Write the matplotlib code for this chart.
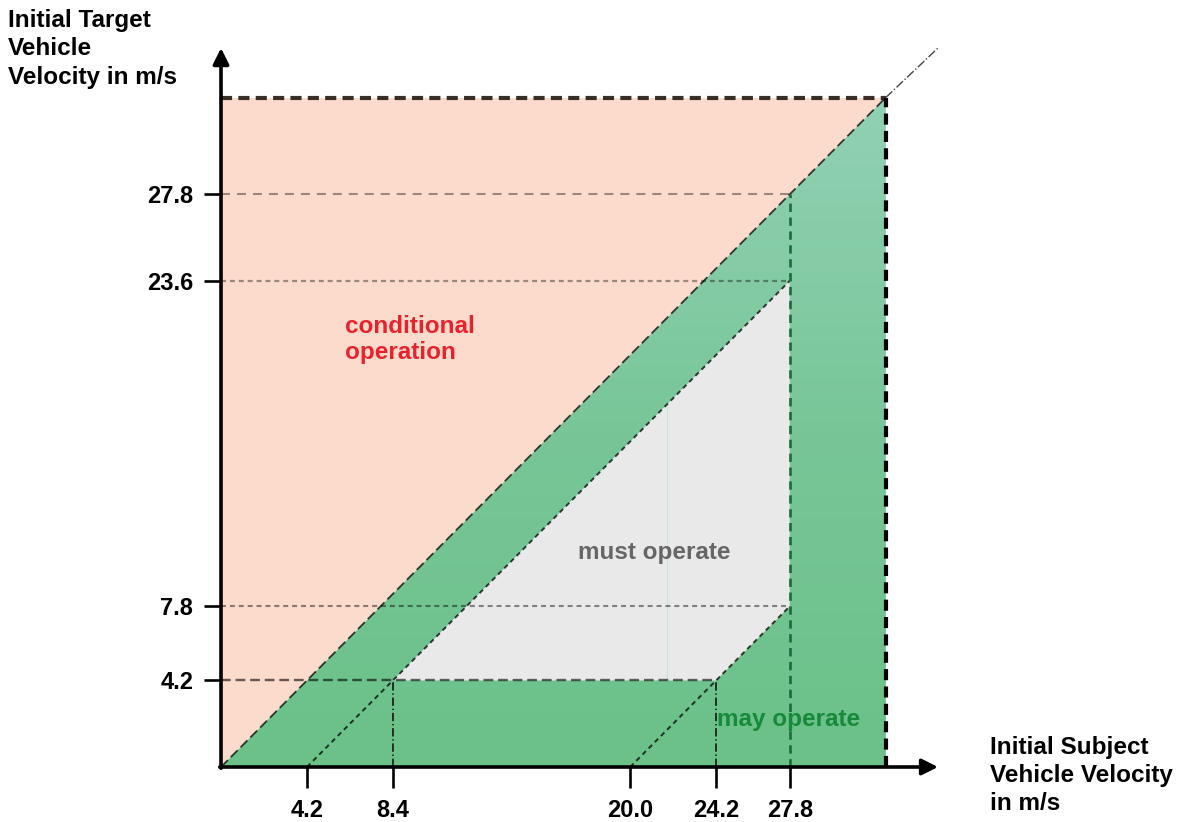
import numpy as np
import matplotlib
matplotlib.use("Agg")
import matplotlib.pyplot as plt
from matplotlib.patches import Polygon
from matplotlib.colors import LinearSegmentedColormap

plt.rcParams["font.family"] = ["Liberation Sans", "DejaVu Sans"]
plt.rcParams["lines.scale_dashes"] = False

# velocities in m/s
x_ticks = [4.2, 8.4, 20.0, 24.2, 27.8]
y_ticks = [4.2, 7.8, 23.6, 27.8]
v_max = 32.5          # outer limit of the test space
v_axis = 35.0         # length of the axis arrows
v_min_target = 4.2    # lowest target velocity that must be handled
v_max_subject = 27.8  # highest subject velocity that must be handled
dv_low = 4.2          # minimum speed difference (y = x - dv_low)
dv_high = 20.0        # maximum speed difference (y = x - dv_high)

fig = plt.figure(figsize=(11.84, 8.22), dpi=100)
ax = fig.add_axes([221 / 1184, 55 / 822, 716 / 1184, 721 / 822])

# conditional operation: target faster than subject
pink = Polygon([(0, 0), (0, v_max), (v_max, v_max)], closed=True,
               facecolor="#fcdbcc", edgecolor="none", zorder=1)
ax.add_patch(pink)

# may operate: green gradient below the diagonal
green_shape = Polygon([(0, 0), (v_max, v_max), (v_max, 0)], closed=True,
                      facecolor="none", edgecolor="none", transform=ax.transData)
ax.add_patch(green_shape)
cmap = LinearSegmentedColormap.from_list("grn", ["#6bc188", "#78c698", "#91d1b5"])
grad = np.linspace(0, 1, 256).reshape(-1, 1)
im = ax.imshow(grad, extent=[0, v_max, 0, v_max], origin="lower", cmap=cmap,
               aspect="auto", zorder=1)
im.set_clip_path(green_shape)

# must operate region
x_low = v_min_target + dv_low
x_high = v_min_target + dv_high
must = Polygon([(x_low, v_min_target), (v_max_subject, v_max_subject - dv_low),
                (v_max_subject, v_max_subject - dv_high), (x_high, v_min_target)],
               closed=True, facecolor="#e9e9e9", edgecolor="none", zorder=2)
ax.add_patch(must)
# faint seam in the grey area
ax.plot([21.8, 21.8], [v_min_target, 21.8 - dv_low], color="#c8e6da", lw=0.8, zorder=2)

# outer border
ax.plot([0, v_max], [v_max, v_max], color="#3a2d28", lw=3, dashes=(8, 4.5), zorder=3)
ax.plot([v_max, v_max], [0, v_max], color="black", lw=3, dashes=(8, 4.5), zorder=3)

# diagonal y = x and its extension
ax.plot([0, v_max], [0, v_max], color="black", alpha=0.75, lw=1.3, dashes=(7, 3), zorder=3)
ax.plot([v_max, 35.1], [v_max, 34.95], color="#444444", lw=1, linestyle="-.",
        clip_on=False, zorder=3)

# speed-difference lines
ax.plot([dv_low, v_max_subject], [0, v_max_subject - dv_low], color="black",
        alpha=0.75, lw=1.4, dashes=(3.5, 2.8), zorder=3)
ax.plot([dv_high, v_max_subject], [0, v_max_subject - dv_high], color="black",
        alpha=0.75, lw=1.4, dashes=(3.5, 2.8), zorder=3)

# horizontal guide lines
ax.plot([0, v_max_subject], [27.8, 27.8], color="black", alpha=0.38, lw=1.5,
        dashes=(6.5, 5), zorder=3)
ax.plot([0, v_max_subject], [23.6, 23.6], color="black", alpha=0.38, lw=1.6,
        dashes=(3.6, 2.8), zorder=3)
ax.plot([0, v_max_subject], [7.8, 7.8], color="black", alpha=0.45, lw=1.5,
        dashes=(3.6, 2.8), zorder=3)
ax.plot([0, x_high], [v_min_target, v_min_target], color="black", alpha=0.6,
        lw=1.7, dashes=(7, 3.5), zorder=3)

# vertical guide lines
ax.plot([x_low, x_low], [0, v_min_target], color="black", alpha=0.8, lw=1.3,
        dashes=(6, 2, 1, 2), zorder=3)
ax.plot([x_high, x_high], [0, v_min_target], color="black", alpha=0.8, lw=1.3,
        dashes=(6, 2, 1, 2), zorder=3)
ax.plot([v_max_subject, v_max_subject], [0, v_max_subject], color="#1b6a3c",
        lw=1.9, dashes=(6, 4), zorder=3)

# region labels
ax.text(6.06, 21.95, "conditional\noperation", color="#e8232d", fontsize=17.5,
        fontweight="bold", ha="left", va="top", linespacing=1.2, zorder=4)
ax.text(21.2, 10.4, "must operate", color="#666666", fontsize=17.5,
        fontweight="bold", ha="center", va="center", zorder=4)
ax.text(24.25, 2.3, "may operate", color="#17893a", fontsize=17.5,
        fontweight="bold", ha="left", va="center", zorder=4)

# axes with arrows
ax.set_xlim(0, v_axis)
ax.set_ylim(0, v_axis)
for s in ax.spines.values():
    s.set_visible(False)
arrow = dict(arrowstyle="-|>", lw=2.6, color="black", mutation_scale=24,
             shrinkA=0, shrinkB=0)
ax.annotate("", xy=(35.05, 0), xytext=(-0.06, 0), arrowprops=arrow,
            annotation_clip=False, zorder=5)
ax.annotate("", xy=(0, 34.9), xytext=(0, -0.06), arrowprops=arrow,
            annotation_clip=False, zorder=5)

ax.set_xticks(x_ticks)
ax.set_xticklabels([f"{v:.1f}" for v in x_ticks], fontweight="bold")
ax.set_yticks(y_ticks)
ax.set_yticklabels([f"{v:.1f}" for v in y_ticks], fontweight="bold")
ax.tick_params(axis="x", direction="out", length=15, width=1.9, labelsize=17, pad=8)
ax.tick_params(axis="y", direction="out", length=12, width=1.9, labelsize=17, pad=8)

# axis titles
fig.text(8 / 1184, 1 - 9 / 822, "Initial Target\nVehicle\nVelocity in m/s",
         fontsize=17.5, fontweight="bold", ha="left", va="top", linespacing=1.3)
fig.text(990 / 1184, 1 - 736 / 822, "Initial Subject\nVehicle Velocity\nin m/s",
         fontsize=17.5, fontweight="bold", ha="left", va="top", linespacing=1.28)

fig.savefig("out.png", dpi=100)
